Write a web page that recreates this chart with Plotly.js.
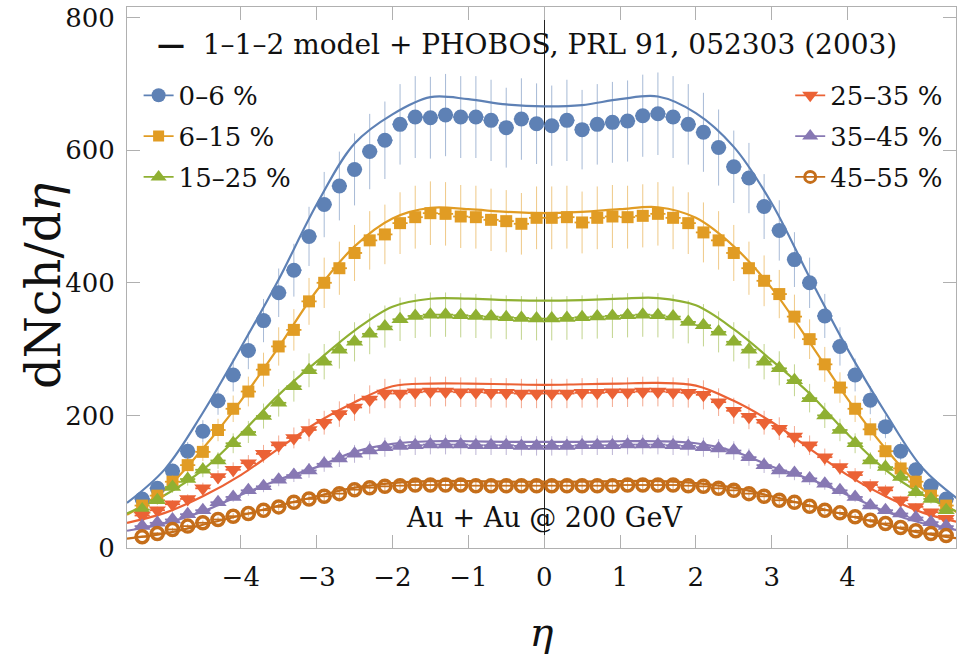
<!DOCTYPE html>
<html>
<head>
<meta charset="utf-8">
<script src="https://cdn.plot.ly/plotly-3.0.1.min.js"></script>
<style>html,body{margin:0;padding:0;background:#fff}#chart{width:958px;height:655px}</style>
</head>
<body>
<div id="chart"></div>
<script>
// ---- data (PHOBOS points, eta bin centres) ----
const eta = [-5.3,-5.1,-4.9,-4.7,-4.5,-4.3,-4.1,-3.9,-3.7,-3.5,-3.3,-3.1,-2.9,-2.7,-2.5,-2.3,-2.1,-1.9,-1.7,-1.5,-1.3,-1.1,-0.9,-0.7,-0.5,-0.3,-0.1,
             0.1,0.3,0.5,0.7,0.9,1.1,1.3,1.5,1.7,1.9,2.1,2.3,2.5,2.7,2.9,3.1,3.3,3.5,3.7,3.9,4.1,4.3,4.5,4.7,4.9,5.1,5.3];
const c0_6   = [74,90,116,146,176,222,261,298,343,385,419,470,518,546,571,598,615,639,650,649,653,650,650,645,634,647,640,
                637,645,631,639,642,644,652,655,650,639,627,604,575,558,515,479,435,400,350,304,261,223,183,146,118,94,74];
const c6_15  = [64,79,100,125,145,178,210,236,269,304,329,372,400,422,445,464,473,490,499,505,504,500,499,495,493,489,498,
                498,499,491,498,500,499,501,504,498,490,476,464,445,422,403,383,349,315,277,242,210,179,146,120,100,79,64];
const c15_25 = [58,72,92,104,118,132,158,175,199,219,244,268,281,299,311,323,334,345,350,352,352,351,350,349,348,347,346,
                346,347,348,349,350,351,352,351,349,341,336,326,311,299,281,271,253,226,200,178,158,132,122,107,84,74,57];
const c25_35 = [49,57,66,74,90,107,118,128,142,155,166,178,189,202,212,224,233,233,235,236,236,235,235,234,234,233,233,
                233,233,234,234,235,235,236,236,235,234,231,220,207,198,189,180,168,155,137,122,110,95,87,72,62,54,44];
const c35_45 = [33,38,43,51,57,69,77,87,93,103,110,117,127,135,142,147,152,154,155,156,156,156,155,155,155,154,154,
                154,154,155,155,155,156,156,156,155,154,152,150,147,137,125,117,113,105,97,87,77,64,57,52,46,39,33];
const c45_55 = [17,22,28,33,38,43,48,52,57,62,69,74,78,82,88,91,93,94,95,95,95,95,94,94,94,94,94,
                94,94,94,94,94,95,95,95,95,94,93,90,87,82,78,72,69,63,57,53,47,42,37,31,26,22,19];

// ---- 1-1-2 model curves ----
const etaModel = [-5.5,-5,-4.5,-4,-3.5,-3,-2.5,-2,-1.5,-1,-0.5,0,0.5,1,1.5,2,2.5,3,3.5,4,4.5,5,5.5];
const m0_6   = [68,119,204,302,405,518,610,654,680,677,669,666,668,677,681,656,605,520,408,300,204,119,70];
const m6_15  = [50,88,150,222,303,388,455,497,513,511,507,505,507,511,514,498,455,392,310,225,150,88,50];
const m15_25 = [52,80,118,172,231,281,328,364,376,376,374,373,374,376,377,366,330,283,233,172,118,80,52];
const m25_35 = [38,53,78,110,150,189,220,244,248,248,247,246,247,248,249,245,222,190,150,110,78,53,38];
const m35_45 = [26,37,55,80,103,122,145,157,161,161,160,160,160,161,161,158,146,123,104,80,55,37,26];
const m45_55 = [14,22,35,49,64,78,91,98,101,101,100,100,100,101,101,98,91,78,64,49,35,22,14];

const labels  = ['0–6 %','6–15 %','15–25 %','25–35 %','35–45 %','45–55 %'];
const xTicks  = [-4,-3,-2,-1,0,1,2,3,4];
const yTicks  = [0,200,400,600,800];

// ---- styling ----
const colors  = ['#5E81B5','#E19C24','#8FB032','#EB6235','#8778B3','#C56E1A'];
const symbols = ['circle','square','triangle-up','triangle-down','triangle-up','circle-open'];
const sizes   = [15,12,15,15,15,12];
const dataSets  = [c0_6,c6_15,c15_25,c25_35,c35_45,c45_55];
const modelSets = [m0_6,m6_15,m15_25,m25_35,m35_45,m45_55];
const FONT = 'DejaVu Serif';

function rgba(hex,a){const n=parseInt(hex.slice(1),16);return `rgba(${n>>16},${(n>>8)&255},${n&255},${a})`;}

const traces = [];
modelSets.forEach((m,i)=>{
  traces.push({x:etaModel,y:m,type:'scatter',mode:'lines',line:{color:colors[i],width:2.2,shape:'spline',smoothing:1},
    showlegend:false,hoverinfo:'skip'});
});
dataSets.forEach((d,i)=>{
  traces.push({x:eta,y:d,type:'scatter',mode:'markers',showlegend:false,
    marker:{symbol:symbols[i],size:sizes[i],color:colors[i],line:{color:colors[i],width:i===5?3.5:0}},
    error_y:{type:'percent',value:9.5,color:rgba(colors[i],0.55),thickness:1,width:0},
    error_x:{type:'constant',value:0.1,color:colors[i],thickness:1.8,width:0}});
});
// legend entries
dataSets.forEach((d,i)=>{
  traces.push({x:[null],y:[null],type:'scatter',mode:'lines+markers',name:labels[i],legendgroup:'g'+i,
    legend: i<3 ? 'legend' : 'legend2',
    line:{color:colors[i],width:1.8},
    marker:{symbol:symbols[i],size:sizes[i]-1,color:colors[i],line:{color:colors[i],width:i===5?3:0}}});
});

const axisCommon = {showline:true,linecolor:'#b0b0b0',linewidth:1,mirror:'ticks',ticks:'inside',ticklen:13,
  tickcolor:'#b0b0b0',tickwidth:1,showgrid:false,tickfont:{family:FONT,size:26,color:'#111'}};

const legendCommon = {xanchor:'left',yanchor:'top',bgcolor:'rgba(0,0,0,0)',font:{family:FONT,size:26,color:'#111'},
  tracegroupgap:4,itemwidth:30};

const layout = {
  width:958,height:655,
  margin:{l:127,r:2,t:7,b:107},
  paper_bgcolor:'#fff',plot_bgcolor:'#fff',
  xaxis:Object.assign({},axisCommon,{range:[-5.5,5.43],tickvals:xTicks,zeroline:true,zerolinecolor:'#222',zerolinewidth:1,
    ticklabelstandoff:6,
    title:{text:'<i>η</i>',font:{family:FONT,size:40,color:'#111'},standoff:26}}),
  yaxis:Object.assign({},axisCommon,{range:[0,816],tickvals:yTicks,zeroline:false,ticklabelstandoff:6}),
  legend:Object.assign({},legendCommon,{x:0.014,y:0.88}),
  legend2:Object.assign({},legendCommon,{x:0.80,y:0.88}),
  annotations:[
    {xref:'paper',yref:'paper',x:0.034,y:0.93,xanchor:'left',yanchor:'middle',showarrow:false,
     text:'<b>—</b>  1–1–2 model + PHOBOS, PRL 91, 052303 (2003)',font:{family:FONT,size:28,color:'#111'}},
    {xref:'x',yref:'paper',x:0,y:0.056,xanchor:'center',yanchor:'middle',showarrow:false,
     text:'Au + Au @ 200 GeV',font:{family:FONT,size:27,color:'#111'}},
    {xref:'paper',yref:'paper',x:-0.102,y:0.485,xanchor:'center',yanchor:'middle',showarrow:false,textangle:-90,
     text:'dNch/d<i>η</i>',font:{family:FONT,size:48,color:'#111'}}
  ],
  showlegend:true
};

Plotly.newPlot('chart',traces,layout,{staticPlot:true,displayModeBar:false});
</script>
</body>
</html>
